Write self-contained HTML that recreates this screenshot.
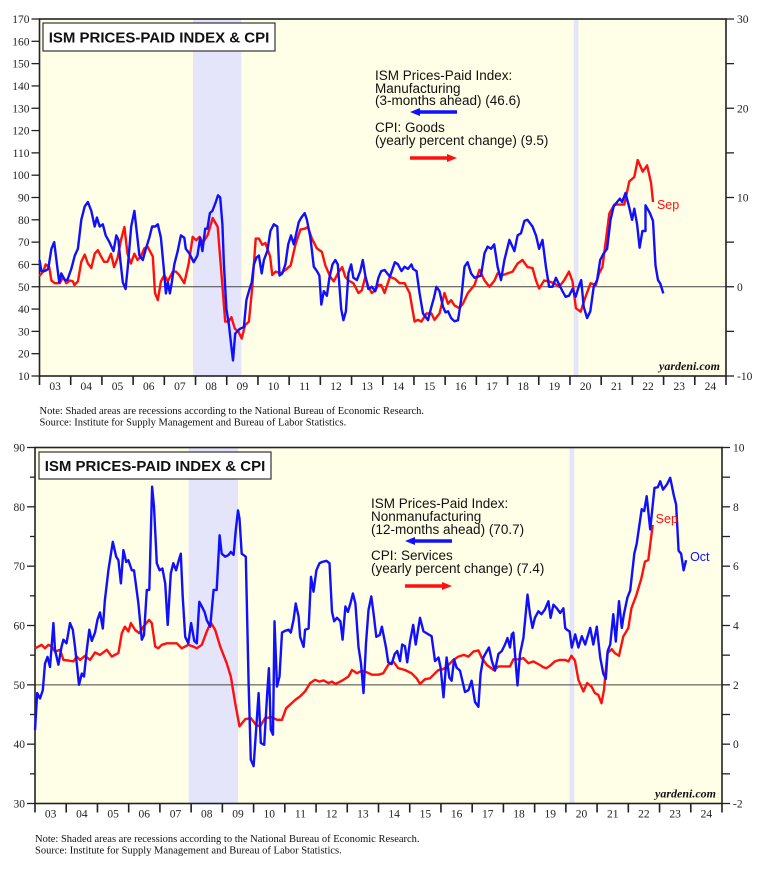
<!DOCTYPE html>
<html><head><meta charset="utf-8"><style>
body{margin:0;background:#fff;width:766px;height:871px;overflow:hidden}
svg{display:block;font-family:"Liberation Sans",sans-serif}
.ser{font-family:"Liberation Serif",serif}
</style></head><body>
<svg id="svg" width="766" height="871" viewBox="0 0 766 871" xmlns="http://www.w3.org/2000/svg"></svg>
<script>
// ===== Top chart data (ISM Manufacturing prices paid, left axis; CPI goods %, right axis)
const topBlueYears=[2003.00,2003.06,2003.17,2003.28,2003.38,2003.47,2003.54,2003.63,2003.70,2003.81,2003.89,2004.02,2004.13,2004.23,2004.34,2004.45,2004.55,2004.66,2004.77,2004.84,2004.93,2005.03,2005.12,2005.24,2005.37,2005.46,2005.53,2005.59,2005.67,2005.76,2005.83,2005.94,2006.04,2006.12,2006.20,2006.31,2006.41,2006.52,2006.61,2006.71,2006.79,2006.89,2006.97,2007.05,2007.11,2007.18,2007.24,2007.32,2007.43,2007.53,2007.64,2007.69,2007.80,2007.94,2008.06,2008.15,2008.22,2008.31,2008.38,2008.46,2008.54,2008.65,2008.72,2008.79,2008.86,2008.91,2008.99,2009.07,2009.15,2009.20,2009.27,2009.34,2009.41,2009.55,2009.63,2009.71,2009.80,2009.87,2009.95,2010.03,2010.12,2010.19,2010.30,2010.40,2010.51,2010.62,2010.69,2010.78,2010.88,2010.97,2011.06,2011.15,2011.23,2011.31,2011.39,2011.50,2011.57,2011.68,2011.79,2011.89,2011.97,2012.03,2012.11,2012.21,2012.29,2012.39,2012.48,2012.56,2012.67,2012.74,2012.82,2012.90,2012.99,2013.06,2013.17,2013.28,2013.36,2013.44,2013.54,2013.65,2013.76,2013.86,2013.95,
2014.06,2014.23,2014.39,2014.49,2014.60,2014.70,2014.81,2014.92,2014.97,2015.08,2015.18,2015.29,2015.45,2015.56,2015.64,2015.72,2015.82,2015.93,2016.01,2016.09,2016.19,2016.30,2016.41,2016.51,2016.62,2016.72,2016.83,2016.94,2017.04,2017.15,2017.26,2017.36,2017.47,2017.57,2017.68,2017.79,2017.90,2018.06,2018.22,2018.32,2018.43,2018.54,2018.64,2018.80,2018.91,2019.01,2019.12,2019.23,2019.33,2019.44,2019.55,2019.65,2019.76,2019.86,2019.97,2020.08,2020.18,2020.28,2020.36,2020.44,2020.55,2020.65,2020.76,2020.87,2020.97,2021.08,2021.19,2021.30,2021.40,2021.51,2021.60,2021.67,2021.78,2021.89,2021.99,2022.06,2022.15,2022.23,2022.32,2022.42,2022.42,2022.56,2022.66,2022.74,2022.82,2022.89,2022.99,2023.00];
const topBlueVals=[62,57,57,58,67,70,62,52,56,53,53,58,64,67,80,86,88,84,77,81,77,78,73,70,66,73,71,62,52,49,59,77,84,74,64,62,67,72,77,77,78,72,60,47,52,47,52,60,66,73,72,67,65,61,64,72,66,76,76,83,84,88,91,90,78,60,40,33,23,17,29,30,31,32,44,48,52,60,63,64,56,62,66,75,78,77,55,56,60,69,73,69,74,79,81,83,80,72,59,57,55,42,48,46,54,60,62,60,40,35,39,56,60,54,53,57,62,55,49,50,48,54,57,
57.5,54.5,61,60,57,59,58,60,58,57,47,38,35,41,45,50,48,41,38.5,39,36,34.5,35,44,59,61,56,54,54.5,55,65,68,67,69,59,53,62,71,66,73,74,79.5,80,77,73,67,71,59,50,50,54,51,48,45.5,46,49,45.5,50,53,41,36,39,50,53,62,65,67,80,86,88,89.5,88,92,86,80,85,78,67.5,75,75,86.5,83,79.5,59.5,53,51.5,47];
const topRedYears=[2003.00,2003.12,2003.20,2003.31,2003.38,2003.49,2003.65,2003.76,2003.86,2003.97,2004.07,2004.12,2004.23,2004.34,2004.45,2004.55,2004.66,2004.77,2004.87,2004.97,2005.07,2005.18,2005.29,2005.39,2005.50,2005.61,2005.72,2005.82,2005.93,2006.04,2006.14,2006.25,2006.36,2006.46,2006.63,2006.70,2006.79,2006.89,2007.00,2007.11,2007.27,2007.37,2007.48,2007.64,2007.78,2007.91,2008.02,2008.13,2008.23,2008.39,2008.55,2008.71,2008.84,2008.95,2009.06,2009.15,2009.26,2009.37,2009.48,2009.59,2009.71,2009.82,2009.93,2010.03,2010.14,2010.24,2010.39,2010.46,2010.57,2010.73,2010.89,2011.05,2011.20,2011.36,2011.50,2011.60,2011.73,2011.89,2012.05,2012.16,2012.32,2012.43,2012.59,2012.70,2012.80,2012.90,2013.06,2013.22,2013.33,2013.44,2013.54,2013.65,2013.76,2013.86,2013.95,
2014.06,2014.23,2014.39,2014.54,2014.70,2014.86,2015.02,2015.13,2015.24,2015.40,2015.56,2015.66,2015.82,2015.98,2016.09,2016.19,2016.30,2016.46,2016.57,2016.73,2016.94,2017.10,2017.26,2017.42,2017.58,2017.68,2017.84,2018.00,2018.16,2018.32,2018.48,2018.64,2018.80,2018.91,2019.01,2019.17,2019.33,2019.49,2019.65,2019.81,2019.97,2020.08,2020.19,2020.34,2020.50,2020.66,2020.83,2020.93,2021.04,2021.15,2021.26,2021.42,2021.58,2021.74,2021.90,2022.06,2022.17,2022.33,2022.47,2022.60,2022.66];
const topRedVals=[1.2,1.7,2.5,2.2,0.7,0.4,0.4,1.1,0.4,0.7,0.6,0.2,0.6,2.8,3.6,2.6,2.1,3.7,4.1,3.4,2.8,2.8,3.7,2.2,3.2,5.2,6.7,3.7,2.6,3.7,3.0,3.4,4.3,4.5,3.4,-0.7,-1.5,0.6,1.3,0.6,1.7,1.7,1.3,0.4,2.6,5.6,5.2,5.6,4.9,5.8,7.7,6.7,1.1,-3.9,-3.9,-3.4,-4.7,-5.0,-5.8,-4.3,-3.9,0,5.4,5.4,4.7,4.9,3.4,1.3,1.7,1.5,1.9,2.4,4.7,6.4,6.5,6.7,5.4,4.3,3.9,2.4,1.1,0.6,1.7,2.2,1.1,0.7,0.4,-0.7,-0.4,1.1,0,-0.7,-0.4,0.2,0.2,
-0.7,1.1,0.9,0.4,0.4,-0.7,-3.9,-3.7,-3.9,-3.0,-3.0,-3.7,-3.0,-0.7,-1.9,-1.5,-2.1,-2.4,-1.9,-0.7,0.2,1.9,0.7,0,0.7,1.5,1.3,1.5,1.7,2.6,3.0,2.2,2.1,0.7,-0.2,0.7,0.6,0.4,0,0.7,1.7,0.6,-2.4,-2.8,-1.1,0.4,0.2,1.5,2.2,5.2,8.2,9.2,9.2,9.2,11.8,12.3,14.2,12.9,13.6,11.6,9.5];
const topLeftTicks=[10,20,30,40,50,60,70,80,90,100,110,120,130,140,150,160,170];
const topRightTicks=[-10,0,10,20,30];
const yearLabels=["03","04","05","06","07","08","09","10","11","12","13","14","15","16","17","18","19","20","21","22","23","24"];

// ===== Bottom chart data (ISM Nonmanufacturing prices paid, left; CPI services %, right)
const botBlueYears=[2003.00,2003.07,2003.16,2003.25,2003.32,2003.40,2003.48,2003.53,2003.59,2003.64,2003.75,2003.85,2003.91,2004.01,2004.12,2004.21,2004.28,2004.41,2004.50,2004.57,2004.66,2004.74,2004.82,2004.92,2005.00,2005.08,2005.17,2005.24,2005.35,2005.49,2005.60,2005.67,2005.75,2005.83,2005.92,2005.99,2006.10,2006.17,2006.31,2006.42,2006.49,2006.58,2006.66,2006.75,2006.81,2006.90,2006.99,2007.08,2007.17,2007.25,2007.35,2007.43,2007.52,2007.59,2007.67,2007.73,2007.81,2007.91,2008.00,2008.10,2008.18,2008.26,2008.34,2008.43,2008.50,2008.61,2008.72,2008.82,2008.91,2008.98,2009.09,2009.20,2009.27,2009.36,2009.43,2009.50,2009.55,2009.62,2009.75,2009.84,2009.91,2010.00,2010.08,2010.16,2010.23,2010.34,2010.43,2010.49,2010.55,2010.62,2010.67,2010.75,2010.83,2010.91,2011.01,2011.12,2011.19,2011.28,2011.35,2011.44,2011.49,2011.60,2011.65,2011.76,2011.84,2011.92,2012.01,2012.11,2012.19,2012.33,2012.43,2012.51,2012.58,2012.67,2012.78,2012.85,2012.94,2013.02,2013.10,2013.18,2013.26,2013.36,2013.44,2013.52,2013.60,2013.68,2013.77,2013.84,2013.93,2014.04,2014.11,
2014.24,2014.31,2014.42,2014.52,2014.60,2014.69,2014.76,2014.85,2014.92,2015.01,2015.11,2015.19,2015.33,2015.44,2015.60,2015.70,2015.81,2015.92,2015.99,2016.08,2016.18,2016.27,2016.34,2016.42,2016.50,2016.61,2016.77,2016.88,2016.98,2017.09,2017.20,2017.27,2017.36,2017.47,2017.54,2017.63,2017.73,2017.84,2017.95,2018.05,2018.13,2018.21,2018.27,2018.32,2018.37,2018.45,2018.53,2018.64,2018.69,2018.77,2018.85,2018.93,2019.01,2019.12,2019.22,2019.33,2019.44,2019.51,2019.60,2019.71,2019.82,2019.92,2019.98,2020.03,2020.12,2020.19,2020.30,2020.40,2020.51,2020.62,2020.78,2020.88,2020.99,2021.10,2021.20,2021.28,2021.34,2021.42,2021.52,2021.60,2021.70,2021.79,2021.86,2021.97,2022.06,2022.19,2022.27,2022.43,2022.51,2022.59,2022.70,2022.84,2022.94,2023.02,2023.11,2023.24,2023.34,2023.45,2023.53,2023.61,2023.69,2023.77,2023.85];
const botBlueVals=[42.4,48.6,47.7,49.1,53.6,54.7,53,56.4,60.4,55.9,53.4,56.4,57.6,57,60.4,59.3,56.4,50,51.9,51.4,55.9,59.3,57.4,58.8,61,62.2,59.5,64.3,69.3,74.1,71.6,71,67.1,72.7,70.7,71,69.3,69.3,63.7,57.6,58.4,66,66,83.4,80,70.5,69.3,69.6,67.1,60.1,68.8,70.5,69.3,70.7,72.1,64.9,58.1,57,60.4,57.4,57,64,63.2,62.3,60.9,59.8,66,66,75.2,72.1,71.6,71.9,72.4,71.9,76.1,79.4,78,72.1,71.6,50.3,37.4,36.3,42.4,48.6,40.2,39.9,48,52.8,42.4,41.6,60.7,49.7,51.4,58.8,59.1,59.3,58.8,61,63.7,61.5,58.1,56.4,59.3,59.5,68.2,65.7,69.3,70.5,70.7,70.9,70.5,62.3,60.7,61.3,60.7,57.6,63.2,62.3,63.7,65.4,63.7,56.4,53.6,48.6,57,62.6,64.9,62.1,58.1,58.4,59.8,
56.3,53.8,53.5,55.2,55.7,54,56.8,56.5,53.8,57.3,60.1,56.8,61.3,59,58.5,58.2,54,54.6,52.9,47.9,54.6,51.2,50.7,54.3,52.9,52.4,48.8,49.1,50.7,47.1,46.3,51.9,54.6,55.7,56.3,54,52.4,55.2,55.7,56.8,57.9,56.3,58.5,58.8,55.2,49.9,55.2,57.9,60.7,65.2,61.9,59.6,61.3,62.4,61.9,62.7,64.1,61.3,63.5,62.9,62.1,62.9,59.6,59.3,59,56.3,58.5,56.3,58.2,56.8,59.6,56.8,59.8,54.6,51.9,51,55.7,56.8,61.9,57.3,64.1,59.6,61.9,64.7,65.9,72.1,73.8,79.6,79.3,81.8,76.2,83.2,83.3,84.3,82.9,83.8,84.9,82.1,80.4,72.6,72.1,69.3,71];
const botRedYears=[2003.00,2003.11,2003.21,2003.32,2003.43,2003.53,2003.64,2003.80,2003.91,2004.07,2004.23,2004.34,2004.44,2004.60,2004.76,2004.92,2005.08,2005.30,2005.46,2005.67,2005.78,2005.88,2005.99,2006.07,2006.21,2006.34,2006.47,2006.65,2006.74,2006.85,2006.95,2007.06,2007.22,2007.54,2007.70,2007.91,2008.07,2008.18,2008.34,2008.50,2008.63,2008.77,2008.93,2009.14,2009.27,2009.41,2009.55,2009.73,2009.91,2010.08,2010.21,2010.37,2010.59,2010.75,2010.91,2011.04,2011.17,2011.33,2011.49,2011.65,2011.81,2011.97,2012.11,2012.24,2012.40,2012.51,2012.62,2012.72,2012.88,2013.04,2013.15,2013.31,2013.47,2013.63,2013.79,2014.00,
2014.15,2014.31,2014.47,2014.63,2014.85,2015.06,2015.22,2015.33,2015.49,2015.65,2015.81,2015.92,2016.08,2016.24,2016.40,2016.56,2016.73,2016.88,2017.04,2017.20,2017.31,2017.47,2017.69,2017.85,2018.05,2018.21,2018.32,2018.53,2018.64,2018.80,2018.96,2019.17,2019.28,2019.38,2019.49,2019.65,2019.81,2019.97,2020.08,2020.18,2020.29,2020.40,2020.56,2020.68,2020.82,2020.93,2021.04,2021.14,2021.22,2021.33,2021.47,2021.57,2021.70,2021.84,2022.00,2022.10,2022.26,2022.42,2022.53,2022.64,2022.78];
const botRedVals=[3.23,3.29,3.35,3.23,3.35,3.29,3.12,3.18,2.84,2.82,2.79,2.95,2.84,2.98,2.84,3.09,3.01,3.18,2.95,3.07,3.74,3.96,3.8,4.08,3.85,3.74,3.96,4.19,4.08,3.29,3.23,3.35,3.4,3.4,3.23,3.35,3.29,3.23,3.35,3.8,4.1,3.85,3.29,2.73,2.28,1.38,0.6,0.84,0.88,0.65,0.6,0.88,0.91,0.82,0.82,1.21,1.33,1.49,1.61,1.78,2.06,2.17,2.11,2.15,2.06,2.11,2.03,2.08,2.17,2.28,2.5,2.39,2.48,2.42,2.34,2.34,
2.39,2.67,2.79,2.56,2.5,2.39,2.22,2.03,2.19,2.22,2.39,2.5,2.53,2.67,2.84,2.95,3.01,2.95,3.12,3.16,2.9,2.67,2.5,2.62,2.62,2.62,2.86,2.86,2.9,2.73,2.79,2.67,2.59,2.56,2.64,2.79,2.84,2.84,2.79,2.98,2.82,2.17,1.78,2.06,1.94,1.72,1.66,1.38,1.83,3.07,3.2,3.07,2.98,3.63,3.91,4.58,5.03,5.59,6.15,6.21,7.39];
const botLeftTicks=[30,40,50,60,70,80,90];
const botRightTicks=[-2,0,2,4,6,8,10];

const NS="http://www.w3.org/2000/svg";
const svg=document.getElementById('svg');
function mk(tag,attrs,parent){const e=document.createElementNS(NS,tag);for(const k in attrs)e.setAttribute(k,attrs[k]);(parent||svg).appendChild(e);return e;}
function txt(s,attrs,parent){const e=mk('text',attrs,parent);e.textContent=s;return e;}

function drawChart(c){
  const g=mk('g',{});
  
  
  const X=y=>c.L+(y-2003)/22*(c.R-c.L);
  const YL=v=>c.B-(v-c.lmin)/(c.lmax-c.lmin)*(c.B-c.T);
  const YR=v=>c.B-(v-c.rmin)/(c.rmax-c.rmin)*(c.B-c.T);
  const bg=mk('rect',{x:c.L,y:c.T,width:c.R-c.L,height:c.B-c.T,fill:'#fffee6'},g);
  
  
  c.rec.forEach(r=>{const e=mk('rect',{x:X(r[0]),y:c.T,width:X(r[1])-X(r[0]),height:c.B-c.T,fill:'#e4e4fb'},g);
    
    });
  const rl=mk('line',{x1:c.L,x2:c.R,y1:YL(50),y2:YL(50),stroke:'#444','stroke-width':1},g);
  
  
  mk('rect',{x:c.L,y:c.T,width:c.R-c.L,height:c.B-c.T,fill:'none',stroke:'#222','stroke-width':1.6},g);
  for(let v=c.lmin;v<=c.lmax;v+=c.lminor){mk('line',{x1:c.L-(v%c.lstep===0?8:5),x2:c.L,y1:YL(v),y2:YL(v),stroke:'#222','stroke-width':1.3},g);}
  c.lticks.forEach(v=>{const t=txt(String(v),{x:c.L-10,y:YL(v)+4,'text-anchor':'end','font-size':11.5,class:'ser',fill:'#222'},g);
    
    });
  for(let v=c.rmin;v<=c.rmax+1e-9;v+=c.rminor){mk('line',{x1:c.R,x2:c.R+8,y1:YR(v),y2:YR(v),stroke:'#222','stroke-width':1.3},g);}
  c.rticks.forEach(v=>{const t=txt(String(v),{x:c.R+11,y:YR(v)+4,'text-anchor':'start','font-size':11.5,class:'ser',fill:'#222'},g);
    
    });
  for(let i=0;i<=22;i++){mk('line',{x1:X(2003+i),x2:X(2003+i),y1:c.B,y2:c.B+9,stroke:'#222','stroke-width':1.6},g);}
  yearLabels.forEach((s,i)=>{const t=txt(s,{x:X(2003.5+i),y:c.B+14,'text-anchor':'middle','font-size':11.5,class:'ser',fill:'#222'},g);
    
    });
  const pr=mk('polyline',{points:c.redY.map((y,i)=>X(y).toFixed(1)+','+YR(c.redV[i]).toFixed(1)).join(' '),fill:'none',stroke:'#ff1010','stroke-width':2.4,'stroke-linejoin':'round'},g);
  
  
  const pb=mk('polyline',{points:c.blueY.map((y,i)=>X(y).toFixed(1)+','+YL(c.blueV[i]).toFixed(1)).join(' '),fill:'none',stroke:'#1010ff','stroke-width':2.4,'stroke-linejoin':'round'},g);
  
  
  const tb=mk('rect',{x:c.tb[0],y:c.tb[1],width:c.tb[2],height:c.tb[3],fill:'#fff',stroke:'#333','stroke-width':1.2},g);
  
  
  const tt=txt('ISM PRICES-PAID INDEX & CPI',{x:c.tb[0]+c.tb[2]/2,y:c.tb[1]+c.tb[3]/2+5.5,'text-anchor':'middle','font-size':15,'font-weight':'bold',fill:'#111'},g);
  
  
  const lg=mk('g',{},g);
  
  
  c.legend.forEach((s,i)=>{txt(s,{x:c.lx,y:c.ly[i],'font-size':13.5,fill:'#111'},lg);});
  const ab=c.arrB, ar=c.arrR;
  mk('line',{x1:ab[0]+8,x2:ab[1],y1:ab[2],y2:ab[2],stroke:'#1010ff','stroke-width':3.5},lg);
  mk('polygon',{points:`${ab[0]},${ab[2]} ${ab[0]+10},${ab[2]-4} ${ab[0]+10},${ab[2]+4}`,fill:'#1010ff'},lg);
  mk('line',{x1:ar[0],x2:ar[1]-8,y1:ar[2],y2:ar[2],stroke:'#ff1010','stroke-width':3.5},lg);
  mk('polygon',{points:`${ar[1]},${ar[2]} ${ar[1]-10},${ar[2]-4} ${ar[1]-10},${ar[2]+4}`,fill:'#ff1010'},lg);
  const n=c.redY.length-1, m=c.blueY.length-1;
  txt(c.redLab,{x:X(c.redY[n])+c.redOff[0],y:YR(c.redV[n])+c.redOff[1],'font-size':12.5,fill:'#ff1010'},g);
  txt(c.blueLab,{x:X(c.blueY[m])+c.blueOff[0],y:YL(c.blueV[m])+c.blueOff[1],'font-size':12.5,fill:'#1010ff'},g);
  const y=txt('yardeni.com',{x:c.R-6,y:c.B-6,'text-anchor':'end','font-size':12,'font-weight':'bold','font-style':'italic',class:'ser',fill:'#111'},g);
  
  
  const n1=txt('Note: Shaded areas are recessions according to the National Bureau of Economic Research.',{x:c.L,y:c.noteY,'font-size':10.5,class:'ser',fill:'#111'},g);
  
  
  const n2=txt('Source: Institute for Supply Management and Bureau of Labor Statistics.',{x:c.L,y:c.noteY+11.5,'font-size':10.5,class:'ser',fill:'#111'},g);
  
  
}

drawChart({name:'top-chart',L:39.5,R:726,T:19,B:376,lmin:10,lmax:170,lstep:10,lminor:10,rmin:-10,rmax:30,rminor:5,
  lticks:topLeftTicks,rticks:topRightTicks,rec:[[2007.92,2009.47],[2020.12,2020.27]],
  blueY:topBlueYears,blueV:topBlueVals,redY:topRedYears,redV:topRedVals,
  tb:[43,23,232,28],lx:375,ly:[80,93,105,132,145],
  legend:['ISM Prices-Paid Index:','Manufacturing','(3-months ahead) (46.6)','CPI: Goods','(yearly percent change) (9.5)'],
  arrB:[410,457,112],arrR:[410,457,158],redLab:'Sep',redOff:[4,7],blueLab:'Jan',blueOff:[5,12],noteY:414});

drawChart({name:'bottom-chart',L:35,R:722,T:447.5,B:803.5,lmin:30,lmax:90,lstep:10,lminor:5,rmin:-2,rmax:10,rminor:1,
  lticks:botLeftTicks,rticks:botRightTicks,rec:[[2007.92,2009.5],[2020.12,2020.27]],
  blueY:botBlueYears,blueV:botBlueVals,redY:botRedYears,redV:botRedVals,
  tb:[39,452,232,27],lx:371,ly:[508,521,534,560,573],
  legend:['ISM Prices-Paid Index:','Nonmanufacturing','(12-months ahead) (70.7)','CPI: Services','(yearly percent change) (7.4)'],
  arrB:[405,452,541],arrR:[405,452,586],redLab:'Sep',redOff:[3,-2],blueLab:'Oct',blueOff:[4,1],noteY:842});
</script>
</body></html>
